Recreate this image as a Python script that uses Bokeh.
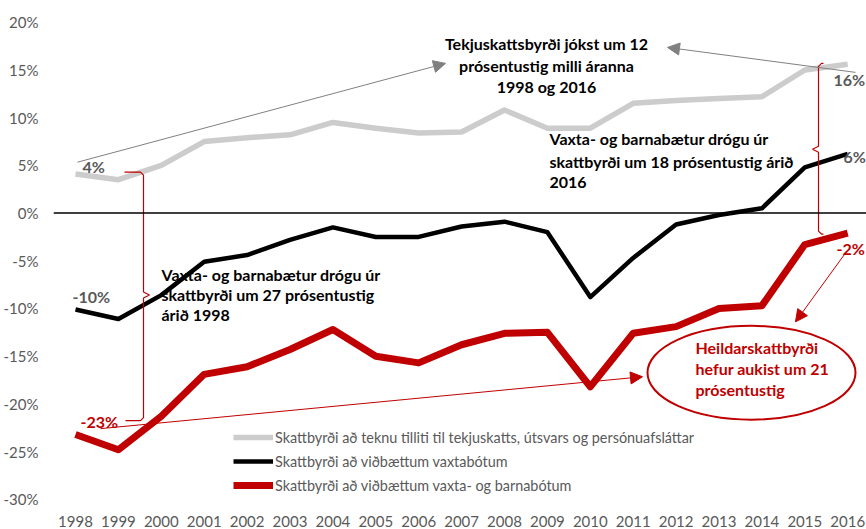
from bokeh.plotting import figure
from bokeh.models import (Label, Arrow, NormalHead, Span, Legend, LegendItem,
                          FixedTicker, PrintfTickFormatter, Range1d)
from bokeh.embed import file_html
from bokeh.resources import INLINE

# ---- data ----
years = list(range(1998, 2017))
gray_vals = [4.1, 3.5, 5.0, 7.5, 7.9, 8.2, 9.5, 8.9, 8.4, 8.5, 10.8, 8.9, 8.9, 11.5, 11.8, 12.0, 12.2, 15.0, 15.6]
black_vals = [-10.1, -11.1, -8.6, -5.1, -4.4, -2.8, -1.5, -2.5, -2.5, -1.4, -0.9, -2.0, -8.8, -4.7, -1.2, -0.2, 0.5, 4.8, 6.2]
red_vals = [-23.2, -24.8, -21.3, -16.9, -16.1, -14.3, -12.2, -15.0, -15.7, -13.8, -12.6, -12.5, -18.2, -12.6, -11.9, -10.0, -9.7, -3.3, -2.1]
y_ticks = [-30, -25, -20, -15, -10, -5, 0, 5, 10, 15, 20]

series_names = [
    "Skattbyrði að teknu tilliti til tekjuskatts, útsvars og persónuafsláttar",
    "Skattbyrði að viðbættum vaxtabótum",
    "Skattbyrði að viðbættum vaxta- og barnabótum",
]

GRAY = "#cccccc"
RED = "#c00000"
TXT = "#595959"
FONT = "Lato"

# layout helpers: convert reference pixel positions to data units
def X(px):
    return 1998 + (px - 75) / 42.9

def Y(py):
    return (213 - py) / 9.56

p = figure(width=866, height=529, output_backend="svg", toolbar_location=None,
           x_range=Range1d(X(53), X(866)), y_range=Range1d(Y(507), Y(5)),
           min_border_left=53, min_border_right=0, min_border_top=5, min_border_bottom=22)
p.outline_line_color = None
p.xgrid.visible = False
p.ygrid.visible = False
p.background_fill_color = "white"

for ax in (p.xaxis[0], p.yaxis[0]):
    ax.axis_line_color = None
    ax.major_tick_line_color = None
    ax.minor_tick_line_color = None
    ax.major_label_text_font = FONT
    ax.major_label_text_font_size = "15px"
    ax.major_label_text_color = TXT
p.xaxis.ticker = FixedTicker(ticks=years)
p.yaxis.ticker = FixedTicker(ticks=y_ticks)
p.yaxis.formatter = PrintfTickFormatter(format="%d%%")
p.yaxis.major_label_standoff = 9
p.xaxis.major_label_standoff = 3

p.add_layout(Span(location=0, dimension="width", line_color="black", line_width=1.5))

r_gray = p.line(years, gray_vals, line_color=GRAY, line_width=5.5, line_join="round")
r_black = p.line(years, black_vals, line_color="black", line_width=4.5, line_join="round")
r_red = p.line(years, red_vals, line_color=RED, line_width=7, line_join="round")

legend = Legend(items=[LegendItem(label=series_names[0], renderers=[r_gray]),
                       LegendItem(label=series_names[1], renderers=[r_black]),
                       LegendItem(label=series_names[2], renderers=[r_red])],
                location=(180, 11), label_text_font=FONT, label_text_font_size="14.4px",
                label_text_color=TXT, glyph_width=40, glyph_height=20, label_height=20,
                spacing=4, padding=0, margin=0, label_standoff=2,
                background_fill_alpha=0, border_line_alpha=0)
p.add_layout(legend, "center")

# ---- braces ----
left_brace_x = [124, 140, 143, 143, 149, 143, 143, 140, 125]
left_brace_y = [172, 172, 175, 292, 295, 298, 418, 421, 421]
p.line([X(v) for v in left_brace_x], [Y(v) for v in left_brace_y], line_color=RED, line_width=1.2)
right_brace_x = [823, 821, 818, 818, 812, 818, 818, 821, 823]
right_brace_y = [63, 63, 66, 146, 149, 152, 231, 234, 234]
p.line([X(v) for v in right_brace_x], [Y(v) for v in right_brace_y], line_color=RED, line_width=1.2)

# ---- arrows ----
def arrow(x0, y0, x1, y1, color, w=1.0):
    p.add_layout(Arrow(end=NormalHead(size=12, fill_color=color, line_color=color),
                       x_start=X(x0), y_start=Y(y0), x_end=X(x1), y_end=Y(y1),
                       line_color=color, line_width=w))

arrow(77, 162, 445, 63, "#808080")
arrow(855, 72, 667, 47, "#808080")
arrow(100, 429, 642, 377, RED)
arrow(845, 253, 795, 322, RED)

# ---- ellipse ----
p.ellipse(x=[X(751)], y=[Y(373)], width=208 / 42.9, height=94 / 9.56,
          fill_color=None, line_color=RED, line_width=2)

# ---- texts ----
def label(px, py, txt, color="black", align="left", size="16px", bold=True):
    p.add_layout(Label(x=X(px), y=Y(py), text=txt, text_color=color, text_align=align,
                       text_baseline="middle", text_font=FONT, text_font_size=size,
                       text_font_style="bold" if bold else "normal"))

label(82, 166, "4%", TXT)
label(72, 297, "-10%", TXT)
label(80, 422, "-23%", RED)
label(833, 79, "16%", TXT)
label(843, 156, "6%", TXT)
label(836, 248, "-2%", RED)

for py, t in zip([43, 65, 86], ["Tekjuskattsbyrði jókst um 12", "prósentustig milli áranna", "1998 og 2016"]):
    label(546, py, t, align="center")
for py, t in zip([138, 161, 182], ["Vaxta- og barnabætur drógu úr", "skattbyrði um 18 prósentustig árið", "2016"]):
    label(549, py, t)
for py, t in zip([275, 295, 315], ["Vaxta- og barnabætur drógu úr", "skattbyrði um 27 prósentustig", "árið 1998"]):
    label(161, py, t)
for py, t in zip([348, 369, 390], ["Heildarskattbyrði", "hefur aukist um 21", "prósentustig"]):
    label(695, py, t, RED)

open("out.html", "w").write(file_html(p, INLINE))
